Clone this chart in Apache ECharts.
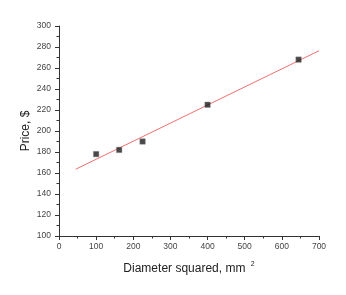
<!DOCTYPE html>
<html><head><meta charset="utf-8">
<script src="https://cdn.jsdelivr.net/npm/echarts@6/dist/echarts.min.js"></script>
<style>html,body{margin:0;padding:0;background:#fff}#c{width:346px;height:295px}</style>
</head><body><div id="c"></div>
<script>
const diameterSquared = [100, 162, 225, 400, 645];
const price = [178, 182, 190, 225, 268];
const fitX = [45, 700];
const fitY = [163.6, 276.4];

const chart = echarts.init(document.getElementById('c'), null, {renderer: 'canvas'});
const axisColor = '#333';
const labelStyle = {color: '#444', fontSize: 8.5, fontFamily: 'Liberation Sans, Arial, sans-serif'};
chart.setOption({
  animation: false,
  backgroundColor: '#fff',
  grid: {left: 59, right: 27, top: 26, bottom: 59},
  xAxis: {
    type: 'value', min: 0, max: 700, interval: 100,
    name: '{a|Diameter squared, mm }{s|2}',
    nameLocation: 'middle', nameGap: 25, nameMoveOverlap: false,
    nameTextStyle: {
      rich: {
        a: {fontSize: 12, color: '#222', fontFamily: 'Liberation Sans, Arial, sans-serif', lineHeight: 16},
        s: {fontSize: 7, color: '#222', fontFamily: 'Liberation Sans, Arial, sans-serif', padding: [0, 0, 9, 2], lineHeight: 16}
      }
    },
    axisLine: {show: true, lineStyle: {color: axisColor, width: 1}},
    axisTick: {show: true, length: 4, lineStyle: {color: axisColor}},
    minorTick: {show: true, splitNumber: 2, length: 2.5, lineStyle: {color: axisColor}},
    axisLabel: Object.assign({margin: 6}, labelStyle),
    splitLine: {show: false}
  },
  yAxis: {
    type: 'value', min: 100, max: 300, interval: 20,
    name: 'Price, $',
    nameLocation: 'middle', nameGap: 27, nameRotate: 90, nameMoveOverlap: false,
    nameTextStyle: {fontSize: 12, color: '#222', fontFamily: 'Liberation Sans, Arial, sans-serif'},
    axisLine: {show: true, lineStyle: {color: axisColor, width: 1}},
    axisTick: {show: true, length: 4, lineStyle: {color: axisColor}},
    minorTick: {show: true, splitNumber: 2, length: 2.5, lineStyle: {color: axisColor}},
    axisLabel: Object.assign({margin: 8}, labelStyle),
    splitLine: {show: false}
  },
  series: [
    {
      type: 'line',
      data: fitX.map((x, i) => [x, fitY[i]]),
      showSymbol: false, symbol: 'none',
      lineStyle: {color: '#f07070', width: 1},
      z: 2
    },
    {
      type: 'scatter',
      data: diameterSquared.map((x, i) => [x, price[i]]),
      symbol: 'rect', symbolSize: 5.5,
      itemStyle: {color: '#1a1a1a', borderColor: '#888', borderWidth: 0.5},
      z: 3
    }
  ]
});
</script></body></html>
